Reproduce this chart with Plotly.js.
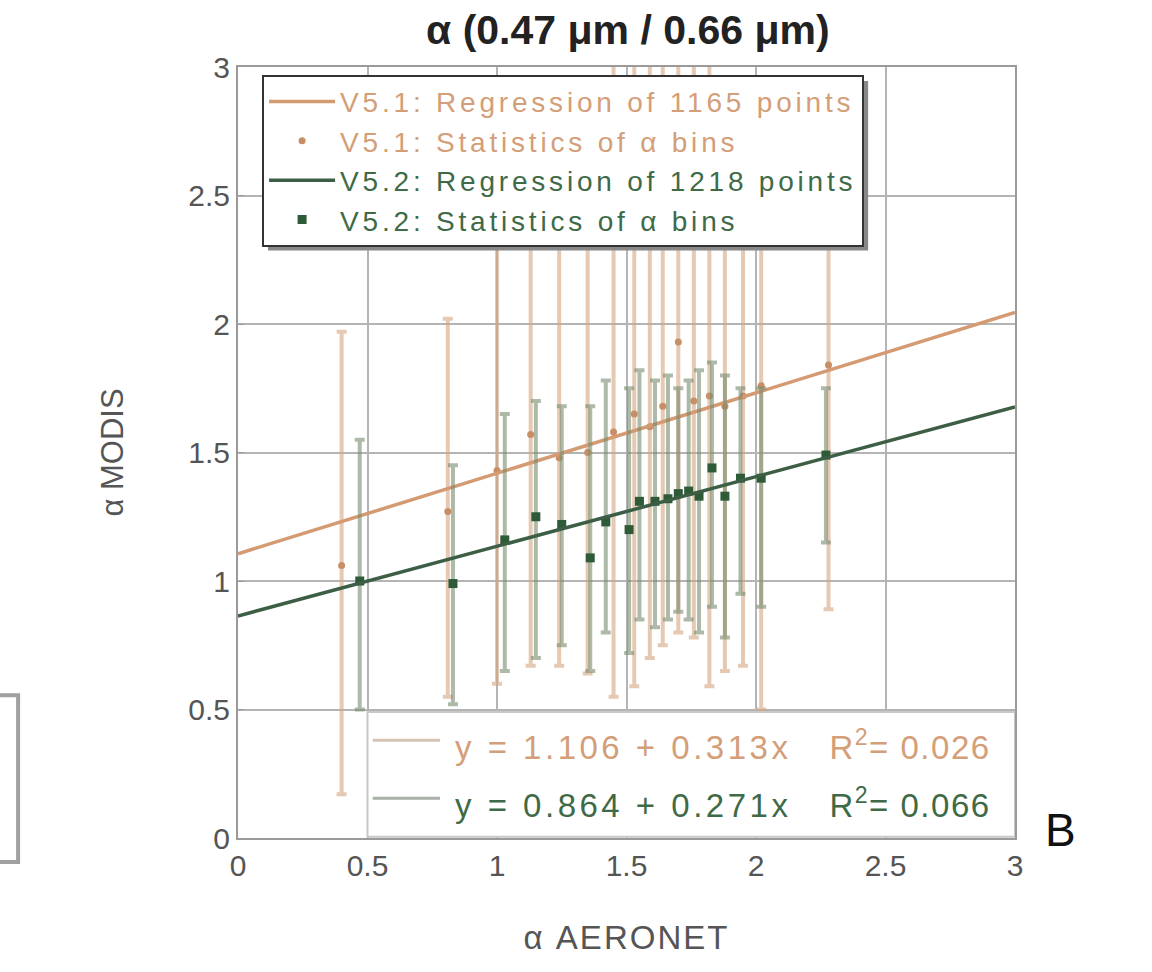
<!DOCTYPE html>
<html>
<head>
<meta charset="utf-8">
<script src="https://cdn.plot.ly/plotly-3.0.1.min.js"></script>
<style>html,body{margin:0;padding:0;background:#fff;}#chart{width:1152px;height:972px;}</style>
</head>
<body>
<div id="chart"></div>
<script>
// ---- Data ----
// V5.1 bin statistics (AERONET alpha bin centre, mean MODIS alpha, lower & upper whisker)
const v51X     = [0.40, 0.81, 1.00, 1.13, 1.24, 1.35, 1.45, 1.53, 1.59, 1.64, 1.70, 1.76, 1.82, 1.88, 1.95, 2.02, 2.28];
const v51Y     = [1.06, 1.27, 1.43, 1.57, 1.48, 1.50, 1.58, 1.65, 1.60, 1.68, 1.93, 1.70, 1.72, 1.68, 1.72, 1.76, 1.84];
const v51Upper = [1.97, 2.02, 2.40, 2.40, 2.40, 2.50, 3.20, 3.20, 3.20, 3.20, 3.20, 3.20, 3.20, 2.80, 2.60, 2.40, 2.40];
const v51Lower = [0.17, 0.55, 0.60, 0.67, 0.67, 0.64, 0.55, 0.59, 0.70, 0.75, 0.80, 0.78, 0.59, 0.65, 0.67, 0.50, 0.89];

// V5.2 bin statistics
const v52X     = [0.47, 0.83, 1.03, 1.15, 1.25, 1.36, 1.42, 1.51, 1.55, 1.61, 1.66, 1.70, 1.74, 1.78, 1.83, 1.88, 1.94, 2.02, 2.27];
const v52Y     = [1.00, 0.99, 1.16, 1.25, 1.22, 1.09, 1.23, 1.20, 1.31, 1.31, 1.32, 1.34, 1.35, 1.33, 1.44, 1.33, 1.40, 1.40, 1.49];
const v52Upper = [1.55, 1.45, 1.65, 1.70, 1.68, 1.68, 1.78, 1.75, 1.82, 1.78, 1.80, 1.75, 1.78, 1.82, 1.85, 1.80, 1.75, 1.75, 1.75];
const v52Lower = [0.50, 0.52, 0.65, 0.70, 0.75, 0.65, 0.80, 0.72, 0.85, 0.82, 0.85, 0.88, 0.85, 0.80, 0.90, 0.78, 0.95, 0.90, 1.15];

// Regression lines (end points across the axis range)
const regX    = [0, 3];
const v51RegY = [1.106, 2.045];
const v52RegY = [0.864, 1.677];

// Tick labels
const tickVals = [0, 0.5, 1, 1.5, 2, 2.5, 3];
const tickText = ['0', '0.5', '1', '1.5', '2', '2.5', '3'];

const cOrange = '#d49a72', cOrangeBar = 'rgba(214,165,128,0.6)', cOrangeTxt = '#d39e78';
const cGreen = '#2f5a38', cGreenBar = 'rgba(120,140,110,0.6)', cGreenTxt = '#3f6a48';
const FONT = 'Liberation Sans, Arial, sans-serif';
const sp = (c, t) => '<span style="color:' + c + ';letter-spacing:3.8px">' + t + '</span>';
const eq = (a, b) => '<span style="letter-spacing:3.5px">' + a + '</span>' +
  '<span style="letter-spacing:1.5px">' + b + '</span>';

const traces = [
  { type: 'scatter', mode: 'markers', x: v51X, y: v51Y,
    name: sp(cOrangeTxt, 'V5.1: Statistics of α bins'), legendrank: 2,
    marker: { color: '#c88f66', size: 7, symbol: 'circle' },
    error_y: { type: 'data', symmetric: false,
      array: v51Upper.map((u, i) => u - v51Y[i]), arrayminus: v51Lower.map((l, i) => v51Y[i] - l),
      color: cOrangeBar, thickness: 4, width: 5 } },
  { type: 'scatter', mode: 'lines', x: regX, y: v51RegY,
    name: sp(cOrangeTxt, 'V5.1: Regression of 1165 points'), legendrank: 1,
    line: { color: cOrange, width: 3.5 } },
  { type: 'scatter', mode: 'markers', x: v52X, y: v52Y,
    name: sp(cGreenTxt, 'V5.2: Statistics of α bins'), legendrank: 4,
    marker: { color: cGreen, size: 9, symbol: 'square' },
    error_y: { type: 'data', symmetric: false,
      array: v52Upper.map((u, i) => u - v52Y[i]), arrayminus: v52Y.map((y, i) => y - v52Lower[i]),
      color: cGreenBar, thickness: 4, width: 5 } },
  { type: 'scatter', mode: 'lines', x: regX, y: v52RegY,
    name: sp(cGreenTxt, 'V5.2: Regression of 1218 points'), legendrank: 3,
    line: { color: '#3b5e45', width: 3.5 } }
];

const axisCommon = {
  range: [0, 3], tickvals: tickVals, ticktext: tickText,
  showgrid: true, gridcolor: '#b4b4b4', gridwidth: 2,
  zeroline: false, showline: true, linecolor: '#9a9a9a', linewidth: 2, mirror: true,
  ticks: 'inside', ticklen: 6, tickcolor: '#9a9a9a',
  tickfont: { family: FONT, size: 30, color: '#555' }
};

const layout = {
  width: 1152, height: 972,
  margin: { l: 238, r: 137, t: 67, b: 134 },
  paper_bgcolor: '#fff', plot_bgcolor: '#fff',
  font: { family: FONT },
  title: { text: '<b>α (0.47 μm / 0.66 μm)</b>', x: 0.545, xanchor: 'center', y: 0.969, yanchor: 'middle',
    font: { size: 41, color: '#222' } },
  xaxis: Object.assign({}, axisCommon, {
    title: { text: '<span style="letter-spacing:2px">α AERONET</span>', standoff: 45, font: { size: 33, color: '#555' } } }),
  yaxis: Object.assign({}, axisCommon, {
    title: { text: 'α MODIS', standoff: 55, font: { size: 31, color: '#555' } } }),
  showlegend: true,
  legend: { x: 0.031, y: 0.99, xanchor: 'left', yanchor: 'top',
    bgcolor: '#ffffff', bordercolor: '#333', borderwidth: 2,
    font: { size: 28, family: FONT }, itemwidth: 66, tracegroupgap: 0 },
  shapes: [
    // legend drop shadow
    { type: 'rect', xref: 'paper', yref: 'paper', x0: 0.0386, x1: 0.811, y0: 0.762, y1: 0.982,
      fillcolor: '#888', line: { width: 0 }, layer: 'above' },
    // white box holding the regression equations
    { type: 'rect', xref: 'x', yref: 'y', x0: 0.5, x1: 3, y0: 0.005, y1: 0.49,
      fillcolor: '#fff', line: { color: '#c8c8c8', width: 2 }, layer: 'above' },
    { type: 'line', xref: 'x', yref: 'y', x0: 0.52, x1: 0.78, y0: 0.38, y1: 0.38,
      line: { color: '#d8c4b4', width: 3 }, layer: 'above' },
    { type: 'line', xref: 'x', yref: 'y', x0: 0.52, x1: 0.78, y0: 0.155, y1: 0.155,
      line: { color: '#a8b0a8', width: 3 }, layer: 'above' },
    // partial frame of neighbouring panel at the far left
    { type: 'rect', xref: 'paper', yref: 'paper', x0: -0.345, x1: -0.283, y0: -0.031, y1: 0.185,
      fillcolor: 'rgba(0,0,0,0)', line: { color: '#a0a0a0', width: 4 } }
  ],
  annotations: [
    { xref: 'x', yref: 'y', x: 0.83, y: 0.36, xanchor: 'left', yanchor: 'middle', showarrow: false,
      text: eq('y = 1.106 + 0.313x   ', 'R<sup>2</sup>= 0.026'),
      font: { size: 33, color: cOrangeTxt } },
    { xref: 'x', yref: 'y', x: 0.83, y: 0.135, xanchor: 'left', yanchor: 'middle', showarrow: false,
      text: eq('y = 0.864 + 0.271x   ', 'R<sup>2</sup>= 0.066'),
      font: { size: 33, color: cGreenTxt } },
    { xref: 'paper', yref: 'paper', x: 1.058, y: 0.0104, xanchor: 'center', yanchor: 'middle', showarrow: false,
      text: 'B', font: { size: 46, color: '#111' } }
  ]
};

Plotly.newPlot('chart', traces, layout, { displayModeBar: false, staticPlot: true });
</script>
</body>
</html>
